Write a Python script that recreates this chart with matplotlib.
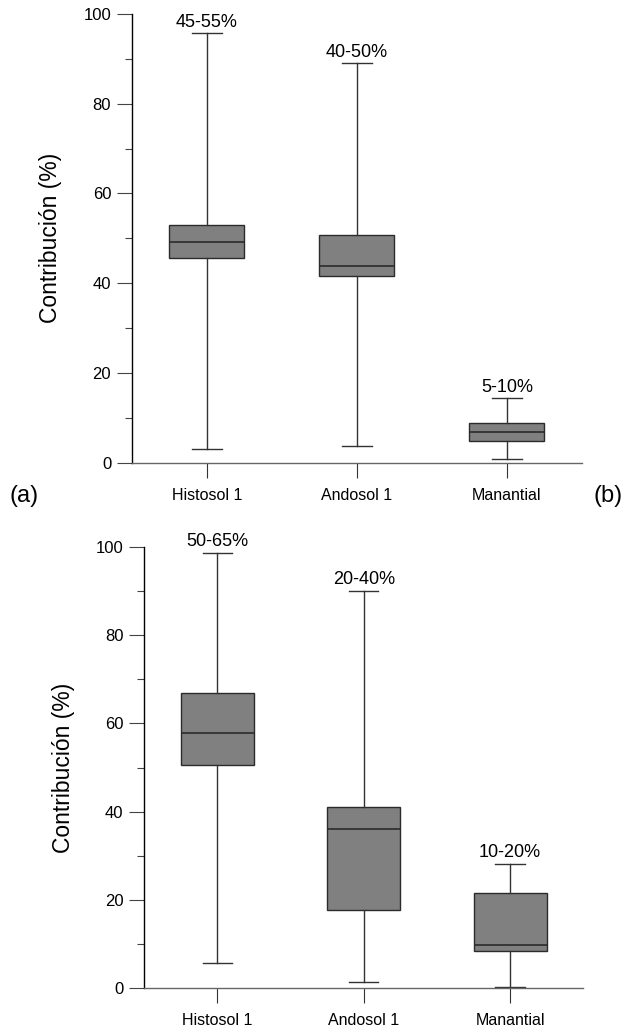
import matplotlib.pyplot as plt
from matplotlib.ticker import MultipleLocator

plt.rcParams['font.family'] = ['Liberation Sans', 'DejaVu Sans']

categories = ['Histosol 1', 'Andosol 1', 'Manantial']

# panel (a): whisker low, Q1, median, Q3, whisker high
a_low = [3.05, 3.65, 0.75]
a_q1 = [45.7, 41.6, 4.9]
a_med = [49.3, 43.9, 6.85]
a_q3 = [52.9, 50.7, 8.9]
a_high = [95.7, 89.0, 14.35]
a_labels = ['45-55%', '40-50%', '5-10%']

# panel (b)
b_low = [5.8, 1.5, 0.37]
b_q1 = [50.55, 17.65, 8.5]
b_med = [57.9, 36.0, 9.8]
b_q3 = [66.9, 41.05, 21.6]
b_high = [98.55, 89.95, 28.2]
b_labels = ['50-65%', '20-40%', '10-20%']


def box_panel(ax, low, q1, med, q3, high, labels):
    stats = []
    for i in range(len(categories)):
        stats.append({'whislo': low[i], 'q1': q1[i], 'med': med[i],
                      'q3': q3[i], 'whishi': high[i], 'fliers': [],
                      'label': categories[i]})
    ax.bxp(stats, positions=range(len(categories)), widths=0.5,
           patch_artist=True, showfliers=False,
           boxprops=dict(facecolor='#808080', edgecolor='#2b2b2b', linewidth=1),
           medianprops=dict(color='#2b2b2b', linewidth=1.2),
           whiskerprops=dict(color='#333333', linewidth=1),
           capprops=dict(color='#333333', linewidth=1),
           capwidths=0.2)
    for i, txt in enumerate(labels):
        ax.annotate(txt, (i, high[i]), xytext=(0, 2), textcoords='offset points',
                    ha='center', va='bottom', fontsize=13)
    ax.set_xlim(-0.5, len(categories) - 0.5)
    ax.set_ylim(0, 100)
    ax.yaxis.set_major_locator(MultipleLocator(20))
    ax.yaxis.set_minor_locator(MultipleLocator(10))
    ax.spines['top'].set_visible(False)
    ax.spines['right'].set_visible(False)
    ax.spines['left'].set_color('black')
    ax.spines['left'].set_linewidth(1)
    ax.spines['bottom'].set_color('#666666')
    ax.spines['bottom'].set_linewidth(1)
    ax.tick_params(axis='y', which='major', length=11, width=0.8,
                   color='#444444', labelsize=12, pad=4)
    ax.tick_params(axis='y', which='minor', length=5, width=0.8, color='#444444')
    ax.tick_params(axis='x', length=11, width=0.8, color='#333333',
                   labelsize=11.5, pad=7)
    ax.set_ylabel('Contribución (%)', fontsize=16.5)


fig = plt.figure(figsize=(6.27, 10.31), dpi=100)
ax1 = fig.add_axes([0.2105, 0.5512, 0.7175, 0.4352])
ax2 = fig.add_axes([0.2301, 0.0414, 0.7002, 0.4283])

box_panel(ax1, a_low, a_q1, a_med, a_q3, a_high, a_labels)
box_panel(ax2, b_low, b_q1, b_med, b_q3, b_high, b_labels)
ax1.yaxis.set_label_coords(-0.156, 0.5)
ax2.yaxis.set_label_coords(-0.158, 0.5)

fig.text(0.015, 0.519, '(a)', fontsize=17, va='center', ha='left')
fig.text(0.993, 0.519, '(b)', fontsize=17, va='center', ha='right')

fig.savefig('out.png', dpi=100)
